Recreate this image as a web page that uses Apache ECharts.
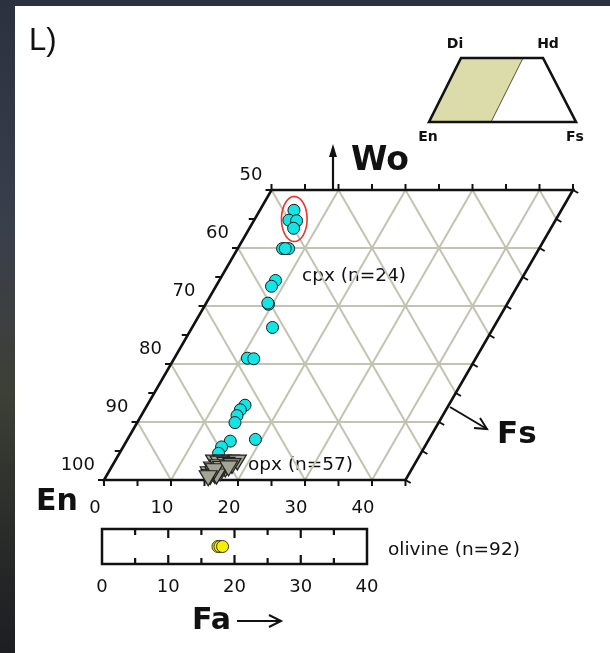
<!DOCTYPE html>
<html>
<head>
<meta charset="utf-8">
<script src="https://cdn.jsdelivr.net/npm/echarts@6/dist/echarts.min.js"></script>
<style>
  html, body { margin: 0; padding: 0; width: 610px; height: 653px; overflow: hidden;
    background: linear-gradient(180deg, #2c3140 0%, #3a3f4c 35%, #3d4036 60%, #2a2d2a 80%, #1c1e22 100%); }
  #chart { width: 610px; height: 653px; }
</style>
</head>
<body>
<div id="chart"></div>
<script>
// Clinopyroxene analyses (mol %)
const cpxWo = [46.5, 44.8, 44.7, 43.4, 39.9, 39.9, 39.9, 34.4, 33.4, 30.3, 30.5, 26.3,
               21.0, 20.9, 12.9, 12.1, 11.1, 9.9, 7.0, 6.7, 5.7, 4.6];
const cpxFs = [5.1, 5.2, 6.4, 6.6, 6.7, 7.6, 7.1, 8.4, 8.3, 9.4, 9.2, 12.0,
               10.9, 11.9, 14.6, 14.3, 14.3, 14.6, 19.1, 15.5, 14.7, 14.8];
// Orthopyroxene analyses (mol %)
const opxWo = [3.0, 3.0, 3.0, 3.0, 2.8, 2.6, 1.8, 1.5, 1.8, 1.0, 0.7, 1.2, 2.2, 0.5, 1.0, 2.4, 1.9, 0.6, 1.5, 0.3, 2.0];
const opxFs = [15.0, 16.2, 17.4, 18.4, 15.8, 16.9, 15.3, 16.3, 17.2, 15.2, 16.2, 16.8, 16.0, 15.6, 15.9, 17.9, 16.6, 16.5, 15.7, 15.4, 17.6];
// Olivine analyses (Fa mol %)
const olivineFa = [17.5, 17.8, 18.2];

// Axis scales
const enLabels = [50, 60, 70, 80, 90, 100];
const fsLabels = [0, 10, 20, 30, 40];
const faTicks = [5, 10, 15, 20, 25, 30, 35];
const woGrid = [10, 20, 30, 40];
const fsGrid = [10, 20, 30, 40];
const enGrid = [90, 80, 70, 60, 50, 40, 30, 20, 10];
const tickSteps = [0, 5, 10, 15, 20, 25, 30, 35, 40, 45, 50];
const WO_MAX = 50, FS_MAX = 45;

const SQ = Math.sqrt(3) / 2;
// ternary (Wo, Fs) -> plane coordinates of an equilateral diagram
const tern = (wo, fs) => [fs + wo / 2, wo * SQ];

const FONT = 'DejaVu Sans';
const INK = '#111111';

// grid lines of the quadrilateral
const gridSegs = [];
woGrid.forEach(k => gridSegs.push([...tern(k, 0), ...tern(k, FS_MAX)]));
fsGrid.forEach(k => gridSegs.push([...tern(0, k), ...tern(WO_MAX, k)]));
enGrid.forEach(en => {
  const s = 100 - en;
  const lo = Math.max(0, s - FS_MAX), hi = Math.min(WO_MAX, s);
  gridSegs.push([...tern(lo, s - lo), ...tern(hi, s - hi)]);
});

const frameCorners = [tern(0, 0), tern(0, FS_MAX), tern(WO_MAX, FS_MAX), tern(WO_MAX, 0)];

// tick marks: position + outward pixel direction
const ticks = [];
tickSteps.forEach(w => ticks.push([...tern(w, 0), -1, 0]));
tickSteps.forEach(w => ticks.push([...tern(w, FS_MAX), 0.866, 0.5]));
tickSteps.filter(f => f <= FS_MAX).forEach(f => ticks.push([...tern(0, f), 0, 1]));
tickSteps.filter(f => f <= FS_MAX).forEach(f => ticks.push([...tern(WO_MAX, f), 0, -1]));

const cpxData = cpxWo.map((w, i) => tern(w, cpxFs[i]));
const opxData = opxWo.map((w, i) => tern(w, opxFs[i]));
const olData = olivineFa.map(f => [f, 0.5]);

const enLabelPos = enLabels.map(en => tern(100 - en, 0));
const fsLabelPos = fsLabels.map(f => tern(0, f));

const chart = echarts.init(document.getElementById('chart'));

function segRender(params, api) {
  const a = api.coord([api.value(0), api.value(1)]);
  const b = api.coord([api.value(2), api.value(3)]);
  return { type: 'line', shape: { x1: a[0], y1: a[1], x2: b[0], y2: b[1] },
           style: { stroke: '#c3c3b3', lineWidth: 2 } };
}

const textStyle = (text, size, extra) => Object.assign({ text, fill: INK, fontFamily: FONT, fontSize: size }, extra || {});

chart.setOption({
  backgroundColor: 'transparent',
  animation: false,
  grid: [
    { left: 104, top: 190, width: 469, height: 290, show: false },
    { left: 102, top: 529, width: 265, height: 35, show: false }
  ],
  xAxis: [
    { gridIndex: 0, type: 'value', min: 0, max: 70, show: false },
    { gridIndex: 1, type: 'value', min: 0, max: 40, interval: 10, position: 'bottom',
      axisLine: { show: false },
      axisTick: { show: false },
      axisLabel: { show: true, margin: 14, color: INK, fontFamily: FONT, fontSize: 18 },
      splitLine: { show: false } }
  ],
  yAxis: [
    { gridIndex: 0, type: 'value', min: 0, max: WO_MAX * SQ, show: false },
    { gridIndex: 1, type: 'value', min: 0, max: 1, show: false }
  ],
  series: [
    { name: 'grid', type: 'custom', coordinateSystem: 'cartesian2d', xAxisIndex: 0, yAxisIndex: 0,
      clip: false, z: 1, silent: true, data: gridSegs, renderItem: segRender },
    { name: 'frame', type: 'custom', coordinateSystem: 'cartesian2d', xAxisIndex: 0, yAxisIndex: 0,
      clip: false, z: 3, silent: true, data: [[0, 0]],
      renderItem: (params, api) => ({ type: 'polygon',
        shape: { points: frameCorners.map(p => api.coord(p)) },
        style: { fill: 'none', stroke: INK, lineWidth: 2.6, lineJoin: 'miter' } }) },
    { name: 'ticks', type: 'custom', coordinateSystem: 'cartesian2d', xAxisIndex: 0, yAxisIndex: 0,
      clip: false, z: 3, silent: true, data: ticks,
      renderItem: (params, api) => {
        const p = api.coord([api.value(0), api.value(1)]);
        const L = 6;
        return { type: 'line', shape: { x1: p[0], y1: p[1], x2: p[0] + L * api.value(2), y2: p[1] + L * api.value(3) },
                 style: { stroke: INK, lineWidth: 2 } };
      } },
    { name: 'En labels', type: 'custom', coordinateSystem: 'cartesian2d', xAxisIndex: 0, yAxisIndex: 0,
      clip: false, z: 4, silent: true, data: enLabelPos,
      renderItem: (params, api) => {
        const p = api.coord([api.value(0), api.value(1)]);
        return { type: 'text', x: p[0] - 9, y: p[1] - 15,
                 style: textStyle(String(enLabels[params.dataIndex]), 18, { align: 'right', verticalAlign: 'middle' }) };
      } },
    { name: 'Fs labels', type: 'custom', coordinateSystem: 'cartesian2d', xAxisIndex: 0, yAxisIndex: 0,
      clip: false, z: 4, silent: true, data: fsLabelPos,
      renderItem: (params, api) => {
        const p = api.coord([api.value(0), api.value(1)]);
        return { type: 'text', x: p[0] - 9, y: p[1] + 28,
                 style: textStyle(String(fsLabels[params.dataIndex]), 18, { align: 'center', verticalAlign: 'middle' }) };
      } },
    { name: 'cpx', type: 'scatter', xAxisIndex: 0, yAxisIndex: 0, z: 5, data: cpxData,
      symbol: 'circle', symbolSize: 12,
      itemStyle: { color: '#14e4e4', borderColor: '#1a1a1a', borderWidth: 1, opacity: 1 } },
    { name: 'opx', type: 'scatter', xAxisIndex: 0, yAxisIndex: 0, z: 6, data: opxData,
      symbol: 'triangle', symbolRotate: 180, symbolSize: [18, 15],
      itemStyle: { color: '#a4a494', borderColor: '#222222', borderWidth: 1.2, opacity: 1 } },
    { name: 'ellipse', type: 'custom', coordinateSystem: 'cartesian2d', xAxisIndex: 0, yAxisIndex: 0,
      clip: false, z: 7, silent: true, data: [tern(45, 5.9)],
      renderItem: (params, api) => {
        const c = api.coord([api.value(0), api.value(1)]);
        const pts = [];
        for (let i = 0; i < 72; i++) {
          const t = i / 72 * Math.PI * 2;
          pts.push([c[0] + 12.8 * Math.cos(t), c[1] + 22.5 * Math.sin(t)]);
        }
        return { type: 'polygon', shape: { points: pts }, style: { fill: 'none', stroke: '#e8342c', lineWidth: 1.6 } };
      } },
    // olivine strip: frame and inward ticks on both long edges
    { name: 'olivine frame', type: 'custom', coordinateSystem: 'cartesian2d', xAxisIndex: 1, yAxisIndex: 1,
      clip: false, z: 8, silent: true, data: [[0, 0]],
      renderItem: (params, api) => {
        const a = api.coord([0, 0]), b = api.coord([40, 1]);
        return { type: 'rect', shape: { x: a[0], y: b[1], width: b[0] - a[0], height: a[1] - b[1] },
                 style: { fill: 'none', stroke: INK, lineWidth: 2.5 } };
      } },
    { name: 'olivine ticks', type: 'custom', coordinateSystem: 'cartesian2d', xAxisIndex: 1, yAxisIndex: 1,
      clip: false, z: 8, silent: true, data: faTicks.map(f => [f, 0.5]),
      renderItem: (params, api) => {
        const f = api.value(0);
        const top = api.coord([f, 1]);
        const bottom = api.coord([f, 0]);
        const L = f % 10 === 0 ? 9 : 6;
        const st = { stroke: INK, lineWidth: 2.2 };
        return { type: 'group', children: [
          { type: 'line', shape: { x1: top[0], y1: top[1], x2: top[0], y2: top[1] + L }, style: st },
          { type: 'line', shape: { x1: bottom[0], y1: bottom[1], x2: bottom[0], y2: bottom[1] - L }, style: st }
        ] };
      } },
    { name: 'olivine', type: 'scatter', xAxisIndex: 1, yAxisIndex: 1, z: 5, data: olData,
      symbol: 'circle', symbolSize: 12,
      itemStyle: { color: '#f4f000', borderColor: '#3a3a20', borderWidth: 1, opacity: 1 } }
  ],
  graphic: [
    { type: 'rect', z: -10, shape: { x: 15, y: 6, width: 600, height: 650 }, style: { fill: '#ffffff' } },
    { type: 'text', x: 29, y: 41, style: { text: 'L)', fontFamily: 'Liberation Sans', fontSize: 31, fill: INK, verticalAlign: 'middle' } },
    // inset: pyroxene quadrilateral sketch
    { type: 'polygon', shape: { points: [[429, 122], [461, 58], [523, 58], [491, 122]] },
      style: { fill: '#dcdcab', stroke: '#55553a', lineWidth: 1 } },
    { type: 'polygon', shape: { points: [[429, 122], [461, 58], [543, 58], [576, 122]] },
      style: { fill: 'none', stroke: INK, lineWidth: 2.6 } },
    { type: 'text', x: 455, y: 44, style: { text: 'Di', fontFamily: FONT, fontWeight: 'bold', fontSize: 14, fill: INK, align: 'center', verticalAlign: 'middle' } },
    { type: 'text', x: 548, y: 44, style: { text: 'Hd', fontFamily: FONT, fontWeight: 'bold', fontSize: 14, fill: INK, align: 'center', verticalAlign: 'middle' } },
    { type: 'text', x: 428, y: 137, style: { text: 'En', fontFamily: FONT, fontWeight: 'bold', fontSize: 14, fill: INK, align: 'center', verticalAlign: 'middle' } },
    { type: 'text', x: 575, y: 137, style: { text: 'Fs', fontFamily: FONT, fontWeight: 'bold', fontSize: 14, fill: INK, align: 'center', verticalAlign: 'middle' } },
    // Wo arrow and title
    { type: 'line', shape: { x1: 333, y1: 190, x2: 333, y2: 152 }, style: { stroke: INK, lineWidth: 2.2 } },
    { type: 'polygon', shape: { points: [[333, 144], [329, 157], [337, 157]] }, style: { fill: INK } },
    { type: 'text', x: 351, y: 161, style: { text: 'Wo', fontFamily: FONT, fontWeight: 'bold', fontSize: 33, fill: INK, verticalAlign: 'middle' } },
    // Fs arrow and title
    { type: 'line', shape: { x1: 450, y1: 407, x2: 487, y2: 429 }, style: { stroke: INK, lineWidth: 2 } },
    { type: 'polyline', shape: { points: [[474, 428], [487, 429], [480, 418]] }, style: { fill: 'none', stroke: INK, lineWidth: 2 } },
    { type: 'text', x: 497, y: 435, style: { text: 'Fs', fontFamily: FONT, fontWeight: 'bold', fontSize: 31, fill: INK, verticalAlign: 'middle' } },
    // En and Fa titles
    { type: 'text', x: 36, y: 502, style: { text: 'En', fontFamily: FONT, fontWeight: 'bold', fontSize: 30, fill: INK, verticalAlign: 'middle' } },
    { type: 'text', x: 192, y: 621, style: { text: 'Fa', fontFamily: FONT, fontWeight: 'bold', fontSize: 30, fill: INK, verticalAlign: 'middle' } },
    { type: 'line', shape: { x1: 237, y1: 621, x2: 280, y2: 621 }, style: { stroke: INK, lineWidth: 2 } },
    { type: 'polyline', shape: { points: [[269, 615], [281, 621], [269, 627]] }, style: { fill: 'none', stroke: INK, lineWidth: 2 } },
    // population labels
    { type: 'text', x: 302, y: 276, style: { text: 'cpx (n=24)', fontFamily: FONT, fontSize: 18.5, fill: INK, verticalAlign: 'middle' } },
    { type: 'text', x: 248, y: 465, style: { text: 'opx (n=57)', fontFamily: FONT, fontSize: 18.5, fill: INK, verticalAlign: 'middle' } },
    { type: 'text', x: 388, y: 550, style: { text: 'olivine (n=92)', fontFamily: FONT, fontSize: 18.5, fill: INK, verticalAlign: 'middle' } }
  ]
});
</script>
</body>
</html>
